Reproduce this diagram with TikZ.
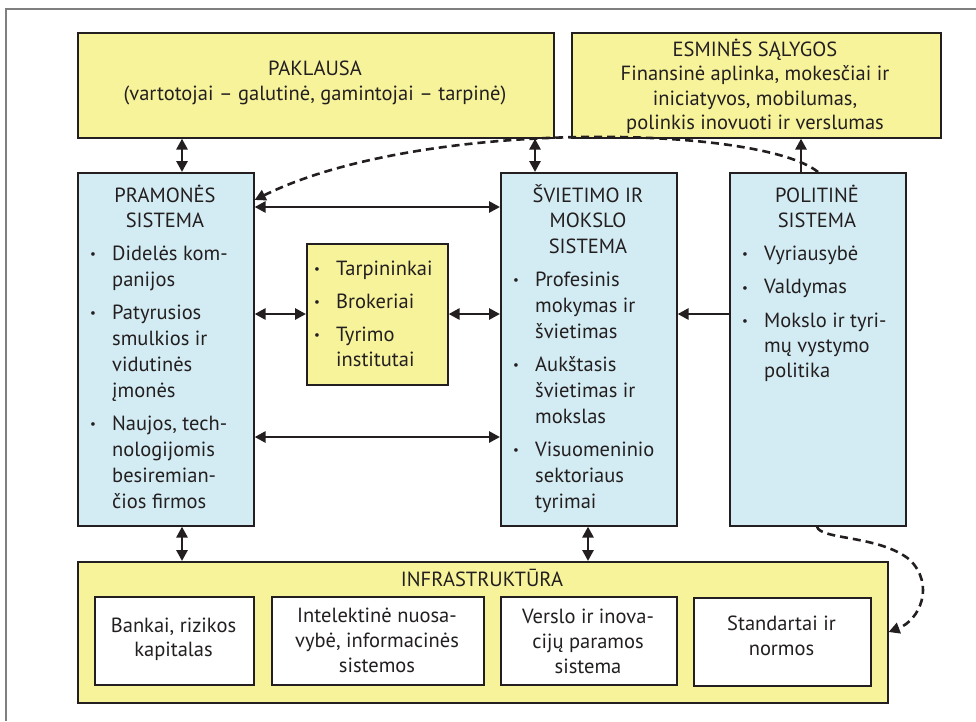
\documentclass[tikz,border=0pt]{standalone}
\usepackage{fontspec}
\setmainfont{PT Sans}
\usetikzlibrary{arrows.meta}

\definecolor{ink}{HTML}{231F20}
\definecolor{paleyellow}{HTML}{F7F39B}
\definecolor{paleblue}{HTML}{D3ECF3}
\definecolor{framegray}{HTML}{7F7F7F}

% bullet cell of fixed width
\newcommand\bul{\makebox[22pt][l]{\raisebox{1.3pt}{\fontsize{13}{13}\selectfont\textbullet}}}
% tabular helpers, aligned on the first baseline
\newcommand\ctab[1]{\begin{tabular}[t]{@{}c@{}}#1\end{tabular}}
\newcommand\btab[1]{\begin{tabular}[t]{@{}l@{}l@{}}#1\end{tabular}}
\newcommand\fs[1]{\fontsize{20.5}{#1}\selectfont}

\tikzset{
  x=1pt, y=-1pt,
  box/.style={draw=ink, line width=1.6pt, inner sep=0pt, anchor=north west},
  ybox/.style={box, fill=paleyellow},
  bbox/.style={box, fill=paleblue},
  wbox/.style={box, fill=white},
  txt/.style={inner sep=0pt, anchor=base, text=ink, font=\fs{25}},
  ltxt/.style={inner sep=0pt, anchor=base west, text=ink, font=\fs{26}},
  conn/.style={draw=ink, line width=2.8pt},
  both/.style={conn, {Triangle[length=11pt,width=11pt]}-{Triangle[length=11pt,width=11pt]}},
  single/.style={conn, -{Triangle[length=11pt,width=11pt]}},
  dashlink/.style={draw=ink, line width=2.6pt, dash pattern=on 8pt off 5pt,
    -{Triangle[length=11pt,width=11pt]}},
}

\begin{document}
\begin{tikzpicture}
\useasboundingbox (0,0) rectangle (976,721);

% outer frame
\draw[framegray, line width=1.5pt] (6,721) -- (6,9) -- (976,9);

% boxes
\node[ybox, minimum width=476pt, minimum height=105pt] (pak) at (77,32) {};
\node[ybox, minimum width=369pt, minimum height=105pt] (esm) at (571,32) {};
\node[bbox, minimum width=176pt, minimum height=353pt] (pram) at (77,172) {};
\node[ybox, minimum width=141pt, minimum height=141pt] (mid) at (306,243) {};
\node[bbox, minimum width=176pt, minimum height=353pt] (svi) at (500,172) {};
\node[bbox, minimum width=176pt, minimum height=353pt] (pol) at (729,172) {};
\node[ybox, minimum width=810pt, minimum height=141pt] (infra) at (77,561) {};
\node[wbox, minimum width=159pt, minimum height=88pt] (inf1) at (94,596) {};
\node[wbox, minimum width=212pt, minimum height=88pt] (inf2) at (271,596) {};
\node[wbox, minimum width=176pt, minimum height=88pt] (inf3) at (500,596) {};
\node[wbox, minimum width=177pt, minimum height=88pt] (inf4) at (693,597) {};

% texts of the upper boxes
\node[txt] (pak-t) at (315,75) {\ctab{PAKLAUSA\\(vartotojai – galutinė, gamintojai – tarpinė)}};
\node[txt, font=\fs{24.5}] (esm-t) at (755,56)
  {\ctab{ESMINĖS SĄLYGOS\\Finansinė aplinka, mokesčiai ir\\iniciatyvos, mobilumas,\\polinkis inovuoti ir verslumas}};

% industry system
\node[txt, font=\fs{25.5}] (pram-t) at (165,202) {\ctab{PRAMONĖS\\SISTEMA}};
\node[ltxt] (pram-l) at (90,260) {\btab{%
  \bul & Didelės kom-\\ & panijos\\[7pt]
  \bul & Patyrusios\\ & smulkios ir\\ & vidutinės\\ & įmonės\\[7pt]
  \bul & Naujos, tech-\\ & nologijomis\\ & besiremian-\\ & čios firmos}};

% intermediaries
\node[ltxt, font=\fs{25.5}] (mid-l) at (314,275) {\btab{%
  \bul & Tarpininkai\\[7.5pt]
  \bul & Brokeriai\\[7.5pt]
  \bul & Tyrimo\\ & institutai}};

% education and science system
\node[txt, font=\fs{25.5}] (svi-t) at (588,202) {\ctab{ŠVIETIMO IR\\MOKSLO\\SISTEMA}};
\node[ltxt] (svi-l) at (513,286) {\btab{%
  \bul & Profesinis\\ & mokymas ir\\ & švietimas\\[7pt]
  \bul & Aukštasis\\ & švietimas ir\\ & mokslas\\[7pt]
  \bul & Visuomeninio\\ & sektoriaus\\ & tyrimai}};

% political system
\node[txt, font=\fs{25.5}] (pol-t) at (817,202) {\ctab{POLITINĖ\\SISTEMA}};
\node[ltxt, font=\fs{25}] (pol-l) at (742,260) {\btab{%
  \bul & Vyriausybė\\[8.5pt]
  \bul & Valdymas\\[8.5pt]
  \bul & Mokslo ir tyri-\\ & mų vystymo\\ & politika}};

% infrastructure
\node[txt] (infra-t) at (482,586) {INFRASTRUKTŪRA};
\node[txt, font=\fs{24.5}] (inf1-t) at (173.5,632) {\ctab{Bankai, rizikos\\kapitalas}};
\node[txt] (inf2-t) at (377,622) {\ctab{Intelektinė nuosa-\\vybė, informacinės\\sistemos}};
\node[txt] (inf3-t) at (588,623) {\ctab{Verslo ir inova-\\cijų paramos\\sistema}};
\node[txt] (inf4-t) at (781.5,630) {\ctab{Standartai ir\\normos}};

% connector positions
\coordinate (xa) at (182,0);
\coordinate (xb) at (535,0);
\coordinate (xc) at (801,0);
\coordinate (xd) at (588,0);
\coordinate (xe) at (818,0);
\coordinate (xf) at (817,0);
\coordinate (ya) at (0,207);
\coordinate (yb) at (0,314);
\coordinate (yc) at (0,437);
\coordinate (yd) at (0,200);
\coordinate (ye) at (0,632);

% solid connectors
\draw[both] (pak.south -| xa) -- (pram.north -| xa);
\draw[both] (pak.south -| xb) -- (svi.north -| xb);
\draw[single] (pol.north -| xc) -- (esm.south -| xc);
\draw[both] (pram.east |- ya) -- (svi.west |- ya);
\draw[both] (pram.east |- yb) -- (mid.west |- yb);
\draw[both] (mid.east |- yb) -- (svi.west |- yb);
\draw[single] (pol.west |- yb) -- (svi.east |- yb);
\draw[both] (pram.east |- yc) -- (svi.west |- yc);
\draw[both] (pram.south -| xa) -- (infra.north -| xa);
\draw[both] (svi.south -| xd) -- (infra.north -| xd);

% dashed links from the political system
\draw[dashlink] (pol.north -| xe) .. controls (760,125) and (420,118) .. (pram.east |- yd);
\draw[dashlink] (pol.south -| xf) .. controls (820,540) and (880,535) .. (910,560)
  .. controls (935,585) and (920,620) .. (infra.east |- ye);
\end{tikzpicture}
\end{document}
